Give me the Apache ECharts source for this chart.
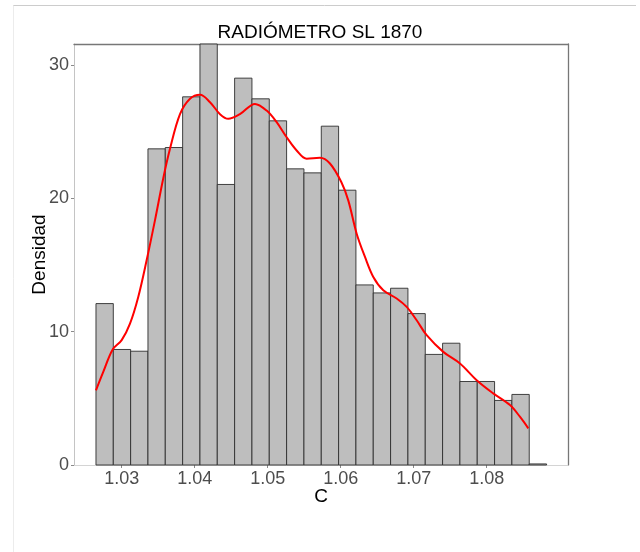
<!DOCTYPE html>
<html>
<head>
<meta charset="utf-8">
<title>RADIÓMETRO SL 1870</title>
<script src="https://cdn.jsdelivr.net/npm/echarts@6/dist/echarts.min.js"></script>
<style>
  html, body { margin: 0; padding: 0; background: #ffffff; }
  #chart { width: 640px; height: 552px; }
</style>
</head>
<body>
<div id="chart"></div>
<script>
// Histogram bins (density scale): first lower edge, common width, bar heights
const binStart = 1.02648;
const binWidth = 0.002374;
const binDensity = [12.1, 8.66, 8.53, 23.7, 23.8, 27.6, 32.3, 21.03, 29.0, 27.45,
                    25.8, 22.2, 21.9, 25.4, 20.6, 13.5, 12.9, 13.25, 11.35, 8.29,
                    9.13, 6.26, 6.26, 4.84, 5.29, 0.08];

// Kernel density estimate curve
const kdeX = [1.02648, 1.02748, 1.02877, 1.03000, 1.03114, 1.03227, 1.03342, 1.03456,
              1.03570, 1.03662, 1.03799, 1.03936, 1.04073, 1.04210, 1.04347, 1.04460,
              1.04620, 1.04826, 1.04986, 1.05123, 1.05260, 1.05397, 1.05534, 1.05716,
              1.05853, 1.06010, 1.06104, 1.06219, 1.06333, 1.06447, 1.06584, 1.06767,
              1.06904, 1.07041, 1.07178, 1.07405, 1.07634, 1.07863, 1.08090, 1.08319,
              1.08455, 1.08570];
const kdeY = [5.6, 6.98, 8.66, 9.36, 10.6, 12.6, 15.35, 18.34,
              21.5, 23.7, 26.3, 27.45, 27.75, 27.2, 26.3, 25.95,
              26.3, 27.07, 26.57, 25.7, 24.57, 23.58, 22.96, 23.03,
              22.6, 21.2, 19.84, 17.34, 15.6, 14.1, 13.1, 12.48,
              11.85, 10.85, 9.73, 8.48, 7.61, 6.36, 5.37, 4.49,
              3.62, 2.75];

// Axis ticks
const xTicks = [1.03, 1.04, 1.05, 1.06, 1.07, 1.08];
const yTicks = [0, 10, 20, 30];

const xMin = 1.02347, xMax = 1.09114;
const yMin = 0, yMax = 31.56;

const FONT = '"Liberation Sans", Arial, sans-serif';

const histData = binDensity.map((d, i) => [binStart + i * binWidth, binStart + (i + 1) * binWidth, d]);
const kdeData = kdeX.map((x, i) => [x, kdeY[i]]);

const chart = echarts.init(document.getElementById('chart'), null, { renderer: 'canvas' });

const hiddenAxisParts = {
  axisTick: { show: false },
  axisLabel: { show: false },
  splitLine: { show: false }
};

chart.setOption({
  backgroundColor: '#ffffff',
  animation: false,
  title: {
    text: 'RADIÓMETRO SL 1870',
    left: 'center',
    top: 18,
    textStyle: { fontFamily: FONT, fontSize: 19, fontWeight: 'normal', color: '#000000' }
  },
  grid: { left: 74, right: 72, top: 44, bottom: 87, show: false },
  xAxis: [{
    type: 'value',
    min: xMin, max: xMax,
    name: 'C',
    nameLocation: 'middle',
    nameGap: 22,
    nameMoveOverlap: false,
    nameTextStyle: { fontFamily: FONT, fontSize: 19, color: '#000000' },
    axisLine: { show: true, lineStyle: { color: '#d4d4d4', width: 1 } },
    axisTick: { show: true, length: 3, lineStyle: { color: '#8a8a8a' }, customValues: xTicks },
    axisLabel: {
      customValues: xTicks, margin: 5,
      fontFamily: FONT, fontSize: 18, color: '#4d4d4d',
      formatter: v => v.toFixed(2)
    },
    splitLine: { show: false }
  }, {
    type: 'value', position: 'top',
    min: xMin, max: xMax,
    axisLine: { show: true, onZero: false, lineStyle: { color: '#777777', width: 1.3 } },
    ...hiddenAxisParts
  }],
  yAxis: [{
    type: 'value',
    min: yMin, max: yMax,
    name: 'Densidad',
    nameLocation: 'middle',
    nameGap: 25,
    nameMoveOverlap: false,
    nameTextStyle: { fontFamily: FONT, fontSize: 19, color: '#000000' },
    axisLine: { show: true, lineStyle: { color: '#c4c4c4', width: 1 } },
    axisTick: { show: true, length: 3, lineStyle: { color: '#8a8a8a' }, customValues: yTicks },
    axisLabel: {
      customValues: yTicks, margin: 5,
      fontFamily: FONT, fontSize: 18, color: '#4d4d4d'
    },
    splitLine: { show: false }
  }, {
    type: 'value', position: 'right',
    min: yMin, max: yMax,
    axisLine: { show: true, onZero: false, lineStyle: { color: '#777777', width: 1.3 } },
    ...hiddenAxisParts
  }],
  graphic: [
    // outer viewer frame
    { type: 'line', shape: { x1: 13, y1: 5.5, x2: 636, y2: 5.5 }, style: { stroke: '#cccccc', lineWidth: 1 }, silent: true },
    { type: 'line', shape: { x1: 13.5, y1: 5.5, x2: 13.5, y2: 552 }, style: { stroke: '#ececec', lineWidth: 1 }, silent: true }
  ],
  series: [{
    type: 'custom',
    name: 'hist',
    xAxisIndex: 0, yAxisIndex: 0,
    data: histData,
    encode: { x: [0, 1], y: 2 },
    renderItem: function (params, api) {
      const lo = api.coord([api.value(0), 0]);
      const hi = api.coord([api.value(1), api.value(2)]);
      const shape = echarts.graphic.clipRectByRect(
        { x: lo[0], y: hi[1], width: hi[0] - lo[0], height: lo[1] - hi[1] },
        { x: params.coordSys.x, y: params.coordSys.y, width: params.coordSys.width, height: params.coordSys.height }
      );
      if (!shape) return null;
      return {
        type: 'rect',
        shape: shape,
        style: { fill: '#bebebe', stroke: '#2e2e2e', lineWidth: 0.9 }
      };
    },
    z: 1
  }, {
    type: 'line',
    name: 'densidad',
    xAxisIndex: 0, yAxisIndex: 0,
    data: kdeData,
    smooth: 0.35,
    showSymbol: false,
    symbol: 'none',
    lineStyle: { color: '#ff0000', width: 2 },
    z: 3
  }]
});
</script>
</body>
</html>
